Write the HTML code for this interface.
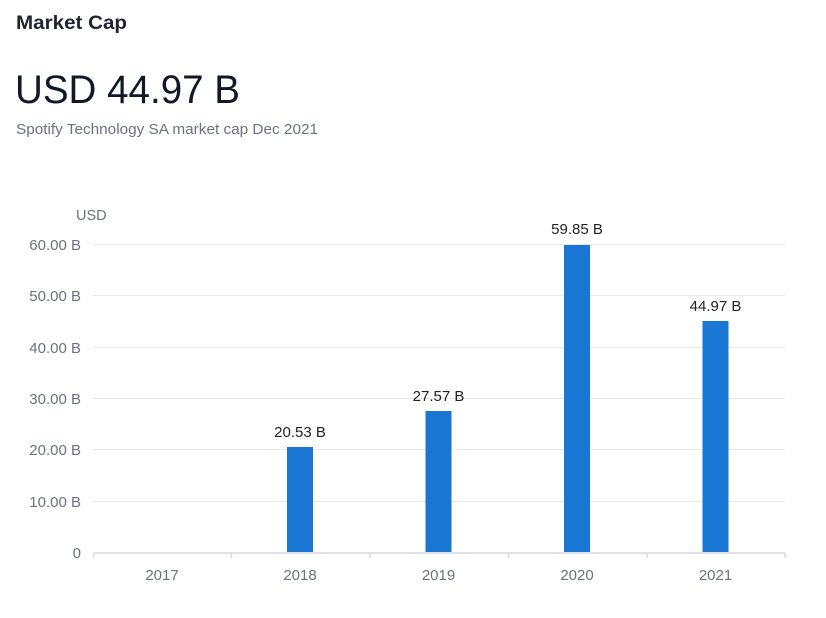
<!DOCTYPE html>
<html><head><meta charset="utf-8"><style>
body{margin:0;background:#fff;width:826px;height:613px;overflow:hidden;font-family:"Liberation Sans",sans-serif;}
</style></head><body>
<svg width="826" height="613" xmlns="http://www.w3.org/2000/svg" font-family="Liberation Sans, sans-serif">
<text x="16" y="29" font-size="19" fill="#1f2430" font-weight="600" textLength="111" lengthAdjust="spacingAndGlyphs">Market Cap</text>
<text x="15" y="103" font-size="40" fill="#111827" textLength="225" lengthAdjust="spacingAndGlyphs">USD 44.97 B</text>
<text x="16" y="134" font-size="14.5" fill="#6b7280" textLength="302" lengthAdjust="spacingAndGlyphs">Spotify Technology SA market cap Dec 2021</text>
<text x="76" y="220" font-size="14.5" fill="#6b7280">USD</text>
<g stroke="#e8e8ec" stroke-width="1">
<line x1="93" x2="785" y1="244.5" y2="244.5"/>
<line x1="93" x2="785" y1="295.5" y2="295.5"/>
<line x1="93" x2="785" y1="347.5" y2="347.5"/>
<line x1="93" x2="785" y1="398.5" y2="398.5"/>
<line x1="93" x2="785" y1="449.5" y2="449.5"/>
<line x1="93" x2="785" y1="501.5" y2="501.5"/>
</g>
<g stroke="#d8d8de" stroke-width="1.5">
<line x1="93" x2="785" y1="553" y2="553"/>
<line x1="93.5" x2="93.5" y1="553" y2="558"/>
<line x1="231.5" x2="231.5" y1="553" y2="558"/>
<line x1="370" x2="370" y1="553" y2="558"/>
<line x1="508.5" x2="508.5" y1="553" y2="558"/>
<line x1="647" x2="647" y1="553" y2="558"/>
<line x1="785" x2="785" y1="553" y2="558"/>
</g>
<g font-size="15" fill="#6b7280" text-anchor="end">
<text x="81" y="250">60.00 B</text>
<text x="81" y="301">50.00 B</text>
<text x="81" y="353">40.00 B</text>
<text x="81" y="404">30.00 B</text>
<text x="81" y="455">20.00 B</text>
<text x="81" y="507">10.00 B</text>
<text x="81" y="558">0</text>
</g>
<g fill="#1976d2">
<rect x="287" y="447" width="26" height="105"/>
<rect x="425.5" y="411" width="26" height="141"/>
<rect x="564" y="245" width="26" height="307"/>
<rect x="702.5" y="321" width="26" height="231"/>
</g>
<g font-size="15" fill="#222" text-anchor="middle">
<text x="300" y="437">20.53 B</text>
<text x="438.5" y="401">27.57 B</text>
<text x="577" y="234">59.85 B</text>
<text x="715.5" y="311">44.97 B</text>
</g>
<g font-size="15" fill="#6b7280" text-anchor="middle">
<text x="162" y="580">2017</text>
<text x="300" y="580">2018</text>
<text x="438.5" y="580">2019</text>
<text x="577" y="580">2020</text>
<text x="715.5" y="580">2021</text>
</g>
</svg>
</body></html>
